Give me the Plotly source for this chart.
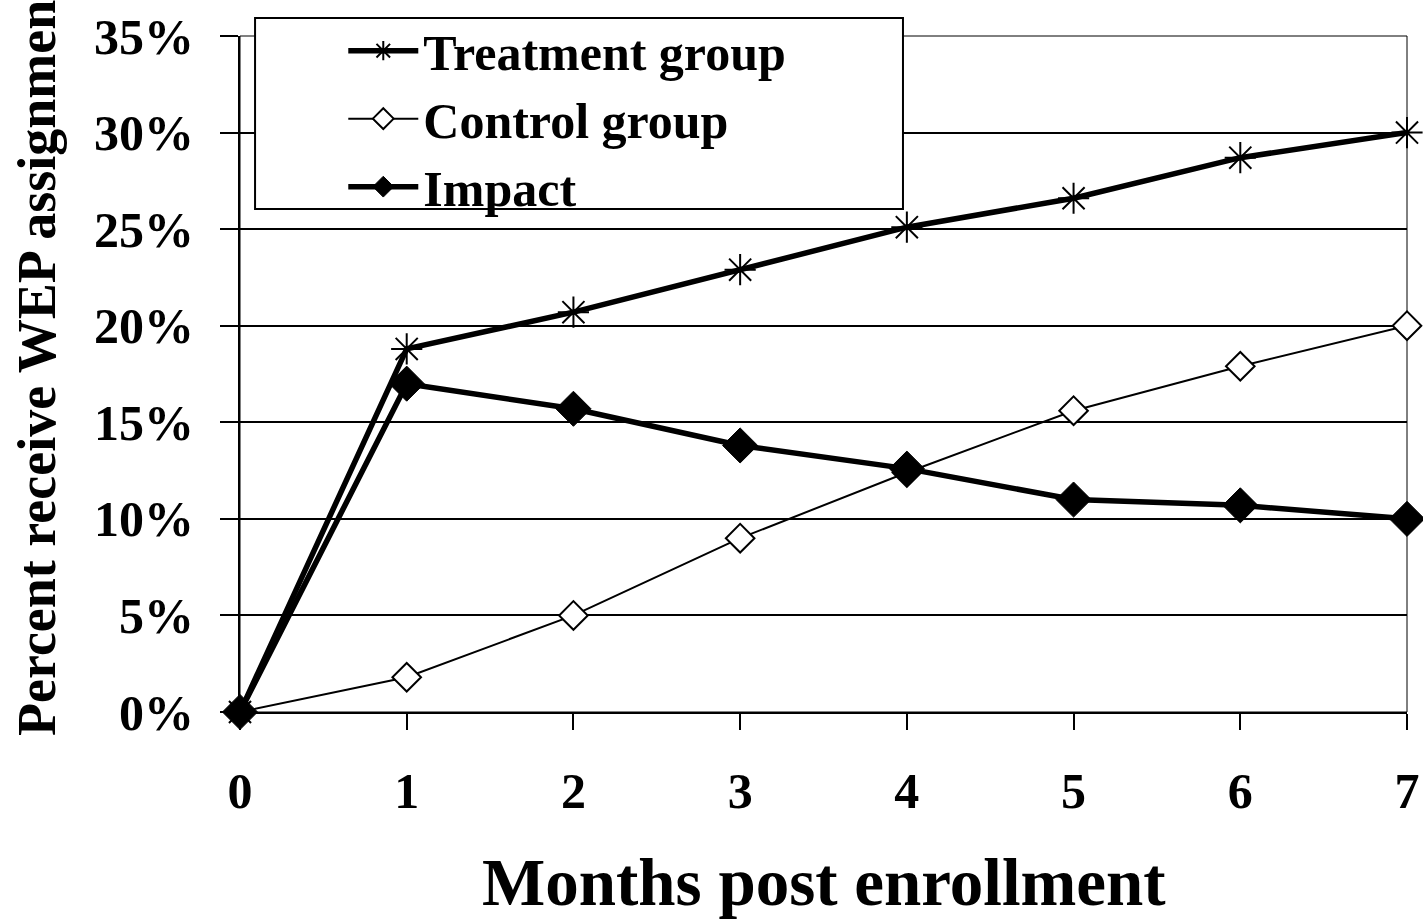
import plotly.graph_objects as go

# Months since enrollment and share of sample with a WEP assignment (%)
months = [0, 1, 2, 3, 4, 5, 6, 7]
treatment = [0.0, 18.8, 20.7, 22.9, 25.1, 26.6, 28.7, 30.0]
control = [0.0, 1.8, 5.0, 9.0, 12.4, 15.6, 17.9, 20.0]
impact = [0.0, 17.0, 15.7, 13.8, 12.6, 11.0, 10.7, 10.0]
y_ticks = [0, 5, 10, 15, 20, 25, 30, 35]
y_tick_text = ["0%", "5%", "10%", "15%", "20%", "25%", "30%", "35%"]

FONT = "Liberation Serif"

fig = go.Figure()
fig.add_trace(go.Scatter(
    x=months, y=treatment, name="Treatment group", mode="lines+markers",
    line=dict(color="black", width=5.5),
    marker=dict(symbol="asterisk-open", size=26, color="black",
                line=dict(color="black", width=2)),
    cliponaxis=False,
))
fig.add_trace(go.Scatter(
    x=months, y=control, name="Control group", mode="lines+markers",
    line=dict(color="black", width=2),
    marker=dict(symbol="diamond", size=22, color="white",
                line=dict(color="black", width=2)),
    cliponaxis=False,
))
fig.add_trace(go.Scatter(
    x=months, y=impact, name="Impact", mode="lines+markers",
    line=dict(color="black", width=5.5),
    marker=dict(symbol="diamond", size=27, color="black",
                line=dict(color="black", width=1)),
    cliponaxis=False,
))

# white legend panel with frame
fig.add_shape(type="rect", xref="paper", yref="paper",
              x0=0.0129, x1=0.5681, y0=0.7441, y1=1.0266,
              line=dict(color="black", width=2), fillcolor="white",
              layer="above")
# thin frame around the plot area
fig.add_shape(type="rect", xref="paper", yref="paper",
              x0=0, x1=1, y0=0, y1=1,
              line=dict(color="black", width=1), layer="below")

fig.add_annotation(
    text="Months post enrollment", xref="paper", yref="paper",
    x=0.5, y=-0.2515, xanchor="center", yanchor="middle", showarrow=False,
    font=dict(family=FONT, size=67, color="black", weight="bold"),
)
fig.add_annotation(
    text="Percent receive WEP assignment", xref="paper", yref="paper",
    x=-0.174, y=0.522, xanchor="center", yanchor="middle", showarrow=False,
    textangle=-90,
    font=dict(family=FONT, size=54, color="black", weight="bold"),
)

fig.update_layout(
    width=1423, height=920,
    margin=dict(l=240, r=16, t=36, b=208, autoexpand=False),
    paper_bgcolor="white", plot_bgcolor="white",
    font=dict(family=FONT, color="black", weight="bold"),
    showlegend=True,
    legend=dict(
        x=0.0885, y=1.036, xanchor="left", yanchor="top",
        bgcolor="rgba(0,0,0,0)", borderwidth=0,
        font=dict(family=FONT, size=50, color="black", weight="bold"),
        itemwidth=70, tracegroupgap=0,
    ),
    xaxis=dict(
        range=[0, 7], tickvals=months, showgrid=False, zeroline=False,
        showline=True, linecolor="black", linewidth=2,
        ticks="outside", ticklen=16, tickwidth=2, tickcolor="black",
        ticklabelstandoff=18,
        tickfont=dict(family=FONT, size=50, color="black", weight="bold"),
    ),
    yaxis=dict(
        range=[0, 35], tickmode="array", tickvals=y_ticks, ticktext=y_tick_text,
        showgrid=True, gridcolor="black", gridwidth=2, zeroline=False,
        showline=True, linecolor="black", linewidth=2,
        ticks="outside", ticklen=18, tickwidth=2, tickcolor="black",
        ticklabelstandoff=16,
        tickfont=dict(family=FONT, size=50, color="black", weight="bold"),
    ),
)

fig.write_html("out.html")
